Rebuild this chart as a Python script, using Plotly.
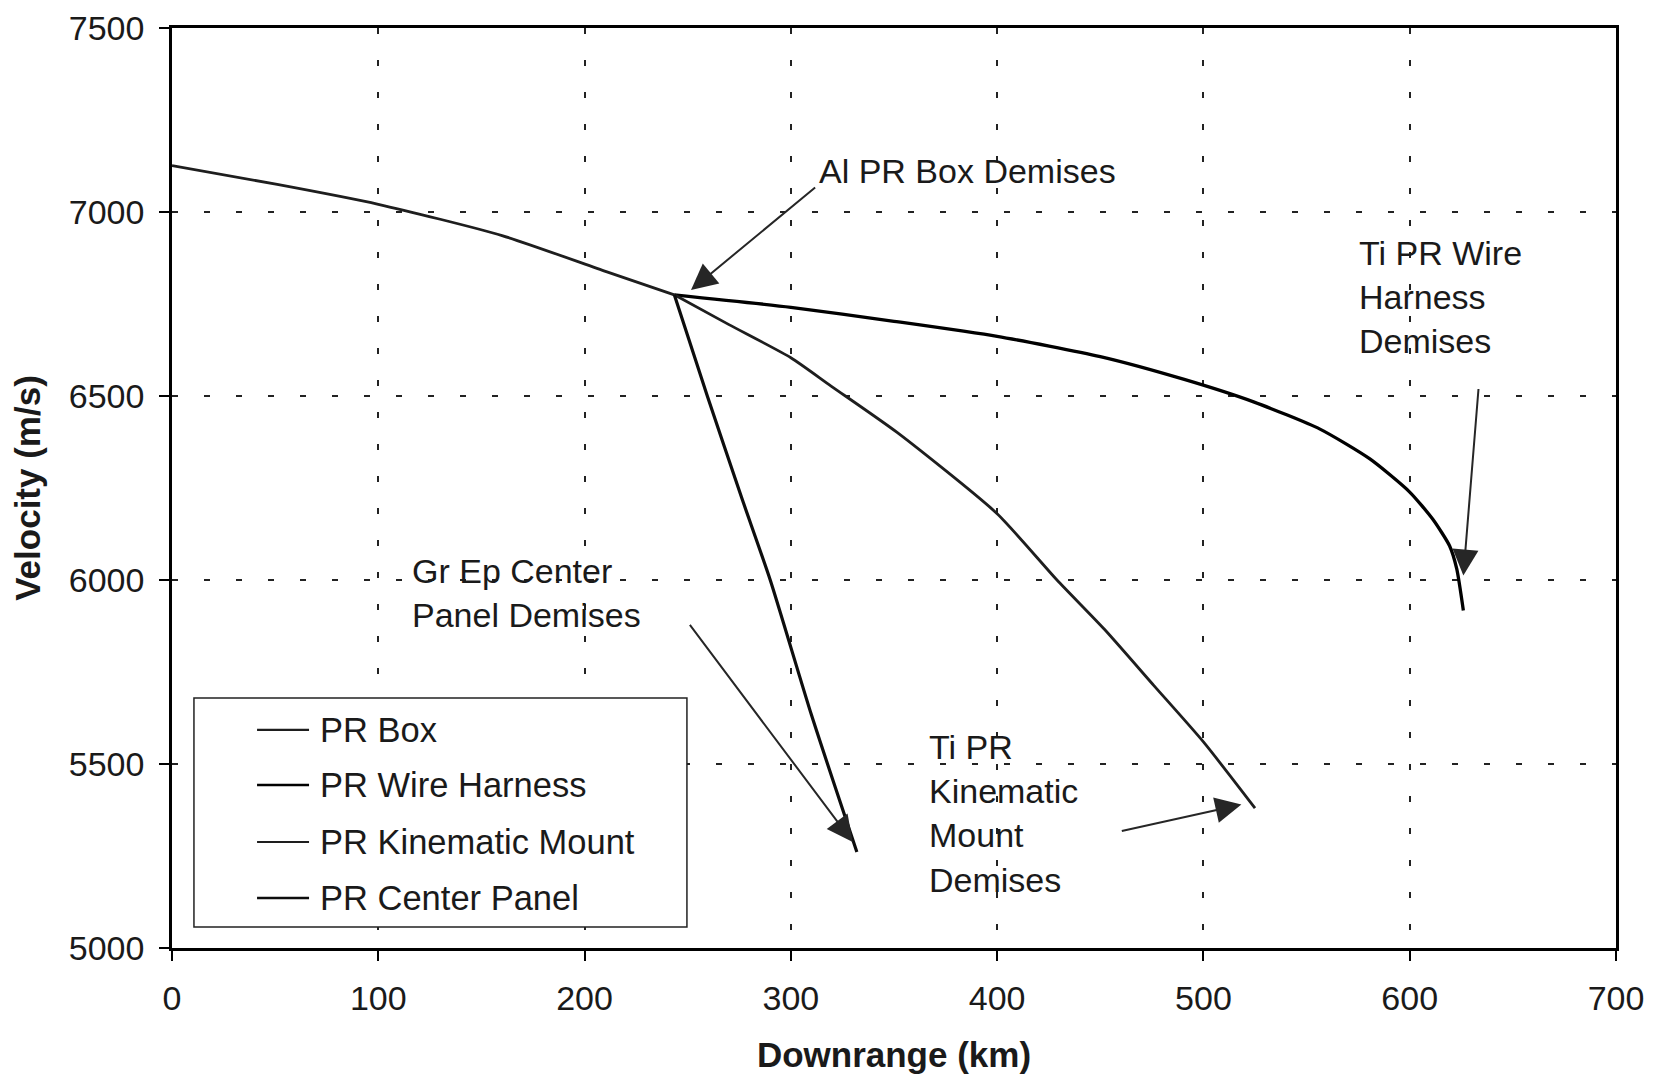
import plotly.graph_objects as go

# ---- data ----
downrange_box = [0, 51, 100, 160, 210.5, 243.5]
velocity_box = [7126, 7075, 7021, 6936, 6838, 6775]

downrange_wire = [243.5, 300, 350, 400, 450, 490.7, 524.3, 556.5, 580.7, 600, 611.2, 619.3, 622.8, 626]
velocity_wire = [6775, 6741, 6703, 6662, 6607, 6545, 6484, 6410, 6329, 6239, 6165, 6093, 6030, 5917]

downrange_kin = [243.5, 270, 300, 319.5, 351.5, 400, 429, 452, 476, 500, 525]
velocity_kin = [6775, 6694, 6604, 6527, 6401, 6180, 6000, 5866, 5713, 5560, 5380]

downrange_center = [243.5, 259.5, 276, 290, 310, 332]
velocity_center = [6775, 6500, 6226, 6000, 5633, 5261]

series_names = ["PR Box", "PR Wire Harness", "PR Kinematic Mount", "PR Center Panel"]

x_ticks = [0, 100, 200, 300, 400, 500, 600, 700]
y_ticks = [5000, 5500, 6000, 6500, 7000, 7500]

# annotations: text, text position, arrow tail, arrow tip
note_texts = ["Al PR Box Demises",
              "Ti PR Wire<br>Harness<br>Demises",
              "Gr Ep Center<br>Panel Demises",
              "Ti PR<br>Kinematic<br>Mount<br>Demises"]
note_x = [312.5, 574.5, 115.5, 366]
note_y = [7112, 6770, 5966, 5366]
arrow_tail_x = [312.5, 633.4, 250.5, 459.7]
arrow_tail_y = [7070, 6523, 5882, 5317]
arrow_tip_x = [251.6, 626, 330, 518.4]
arrow_tip_y = [6788, 6012, 5288, 5390]

FONT = "Liberation Sans, Arial, sans-serif"
TXT = "#1a1a1a"

fig = go.Figure()
styles = [("#1e1e1e", 2.8), ("#000000", 3.3), ("#1e1e1e", 2.8), ("#0d0d0d", 3.2)]
data = [(downrange_box, velocity_box), (downrange_wire, velocity_wire),
        (downrange_kin, velocity_kin), (downrange_center, velocity_center)]
for (xs, ys), name, (col, w) in zip(data, series_names, styles):
    fig.add_trace(go.Scatter(x=xs, y=ys, mode="lines", name=name, showlegend=False,
                             line=dict(color=col, width=w, shape="spline", smoothing=0.6)))

for t, tx, ty in zip(note_texts, note_x, note_y):
    fig.add_annotation(x=tx, y=ty, xref="x", yref="y", text=t, showarrow=False,
                       xanchor="left", yanchor="middle", align="left",
                       font=dict(family=FONT, size=34, color=TXT))

for ax_, ay_, x_, y_ in zip(arrow_tail_x, arrow_tail_y, arrow_tip_x, arrow_tip_y):
    fig.add_annotation(x=x_, y=y_, ax=ax_, ay=ay_, xref="x", yref="y",
                       axref="x", ayref="y", text="", showarrow=True,
                       arrowhead=2, arrowsize=2.6, arrowwidth=2,
                       arrowcolor="#262626", standoff=0, startstandoff=0)

# legend box drawn in paper coordinates (matches the boxed key of the original)
leg_x0, leg_x1, leg_y0, leg_y1 = 0.0152, 0.3566, 0.0228, 0.2717
leg_line_x0, leg_line_x1, leg_text_x = 0.0589, 0.0949, 0.1011
leg_rows = [0.2370, 0.1772, 0.1152, 0.0543]
fig.add_shape(type="rect", xref="paper", yref="paper", x0=leg_x0, x1=leg_x1,
              y0=leg_y0, y1=leg_y1, line=dict(color="#222222", width=1.5),
              fillcolor="white", layer="above")
for name, (col, w), ry in zip(series_names, styles, leg_rows):
    fig.add_shape(type="line", xref="paper", yref="paper", x0=leg_line_x0, x1=leg_line_x1,
                  y0=ry, y1=ry, line=dict(color=col, width=w - 0.6), layer="above")
    fig.add_annotation(x=leg_text_x, y=ry, xref="paper", yref="paper", text=name,
                       showarrow=False, xanchor="left", yanchor="middle",
                       font=dict(family=FONT, size=34.5, color=TXT))

axis_common = dict(
    showline=True, linecolor="black", linewidth=2.5, mirror=True,
    ticks="outside", ticklen=10, tickwidth=1.5, tickcolor="black",
    showgrid=True, gridcolor="#222222", gridwidth=1.5, griddash="6px,26px",
    zeroline=False, ticklabeloverflow="allow",
    tickfont=dict(family=FONT, size=34, color=TXT),
)

fig.update_xaxes(range=[0, 700], tickvals=x_ticks, ticktext=[str(v) for v in x_ticks],
                 title=dict(text="<b>Downrange (km)</b>", standoff=30,
                            font=dict(family=FONT, size=35, color=TXT)),
                 ticklabelstandoff=8, **axis_common)
fig.update_yaxes(range=[5000, 7500], tickvals=y_ticks, ticktext=[str(v) for v in y_ticks],
                 title=dict(text="<b>Velocity (m/s)</b>", standoff=18,
                            font=dict(family=FONT, size=35, color=TXT)),
                 ticklabelstandoff=8, **axis_common)

fig.update_layout(
    width=1650, height=1066,
    margin=dict(l=164, r=42, t=20, b=126, autoexpand=False),
    paper_bgcolor="white", plot_bgcolor="white",
    font=dict(family=FONT, size=34.5, color=TXT),
    showlegend=False,
)

fig.write_html("out.html")
